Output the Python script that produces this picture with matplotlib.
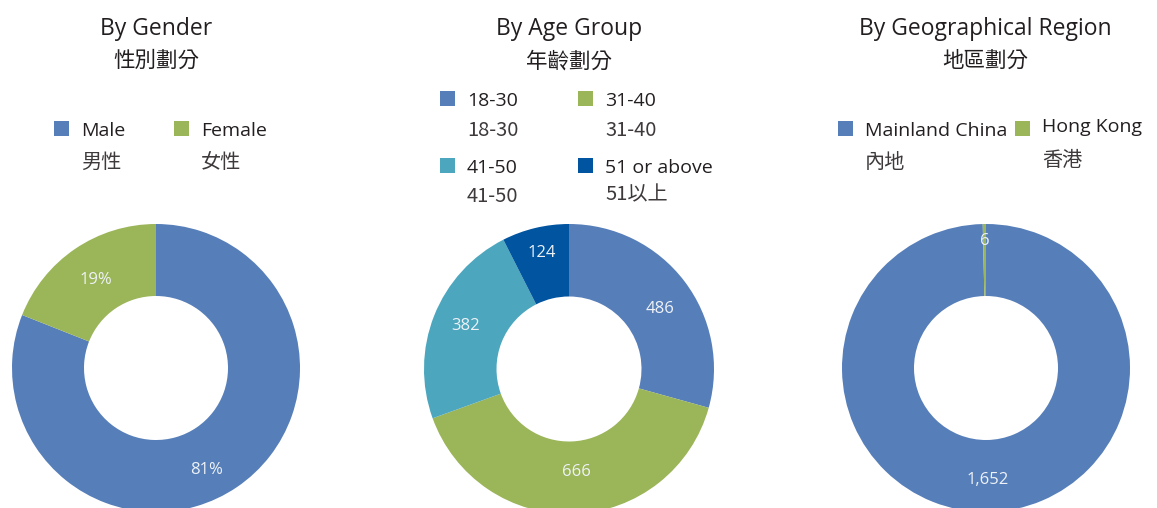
import numpy as np
import matplotlib.pyplot as plt
from matplotlib.patches import Rectangle

# Data
gender_labels = ["Male", "Female"]
gender_labels_zh = ["男性", "女性"]
gender_values = [81, 19]

age_labels = ["18-30", "31-40", "41-50", "51 or above"]
age_labels_zh = ["18-30", "31-40", "41-50", "51以上"]
age_values = [486, 666, 382, 124]

region_labels = ["Mainland China", "Hong Kong"]
region_labels_zh = ["內地", "香港"]
region_values = [1652, 6]

BLUE = "#567EB9"
GREEN = "#9BB559"
TEAL = "#4BA6BE"
NAVY = "#0054A0"
TXT = "#231F20"
TXT_ZH = "#3E3A3B"
LBL = "#EEF2F7"

W, H = 1157, 508
fig = plt.figure(figsize=(W / 100, H / 100), dpi=100)
fig.patch.set_facecolor("white")

EN = ["Open Sans", "Noto Sans CJK TC"]
ZH = ["Noto Sans CJK TC", "DejaVu Sans"]


def px(x, y):
    return x / W, 1 - y / H


def donut(cx, cy, r, values, colors, fmt, label_r, label_shift):
    ax = fig.add_axes([(cx - r) / W, (H - cy - r) / H, 2 * r / W, 2 * r / H])
    wedges, _ = ax.pie(values, colors=colors, startangle=90, counterclock=False,
                       radius=1, wedgeprops=dict(width=0.5, linewidth=0))
    for w, v, lr, sh in zip(wedges, values, label_r, label_shift):
        mid = np.deg2rad((w.theta1 + w.theta2) / 2 + sh)
        ax.text(lr * np.cos(mid), lr * np.sin(mid), fmt(v), ha="center", va="center",
                color=LBL, fontsize=12, family=EN)
    ax.set_xlim(-1, 1)
    ax.set_ylim(-1, 1)
    ax.set_aspect("equal")
    ax.axis("off")
    return ax


def title(cx, en, zh):
    fig.text(*px(cx, 29), en, ha="center", va="center", fontsize=16.5, color=TXT, family=EN)
    fig.text(*px(cx, 61), zh, ha="center", va="center", fontsize=15.5, color=TXT, family=ZH)


def legend_item(x, y, color, en, zh, dy=33, en_dy=0):
    fig.patches.append(Rectangle(px(x, y + 7), 15 / W, 15 / H, facecolor=color,
                                 edgecolor="none", transform=fig.transFigure, figure=fig))
    fig.text(*px(x + 27, y + 2 + en_dy), en, ha="left", va="center", fontsize=14, color=TXT, family=EN)
    fig.text(*px(x + 27, y + dy), zh, ha="left", va="center", fontsize=14.5, color=TXT_ZH, family=ZH)


# By Gender
title(156, "By Gender", "性別劃分")
donut(156, 368, 144, gender_values, [BLUE, GREEN], lambda v: f"{v}%", [0.79, 0.74], [-8, 0])
legend_item(54, 129, BLUE, gender_labels[0], gender_labels_zh[0])
legend_item(174, 129, GREEN, gender_labels[1], gender_labels_zh[1])

# By Age Group
title(569, "By Age Group", "年齡劃分")
donut(569, 369, 145, age_values, [BLUE, GREEN, TEAL, NAVY], lambda v: f"{v:,}",
      [0.75, 0.71, 0.77, 0.82], [-4, 2, -1, 0])
legend_item(440, 99, BLUE, age_labels[0], age_labels_zh[0], dy=32)
legend_item(578, 99, GREEN, age_labels[1], age_labels_zh[1], dy=32)
legend_item(440, 166, TEAL, age_labels[2], age_labels_zh[2], dy=31)
legend_item(578, 166, NAVY, age_labels[3], age_labels_zh[3], dy=29)

# By Geographical Region
title(985, "By Geographical Region", "地區劃分")
donut(986, 368, 144, region_values, [BLUE, GREEN], lambda v: f"{v:,}", [0.78, 0.88], [0, 0])
legend_item(838, 129, BLUE, region_labels[0], region_labels_zh[0])
legend_item(1015, 129, GREEN, region_labels[1], region_labels_zh[1], dy=32, en_dy=-4)

fig.savefig("out.png", dpi=100, facecolor="white")
